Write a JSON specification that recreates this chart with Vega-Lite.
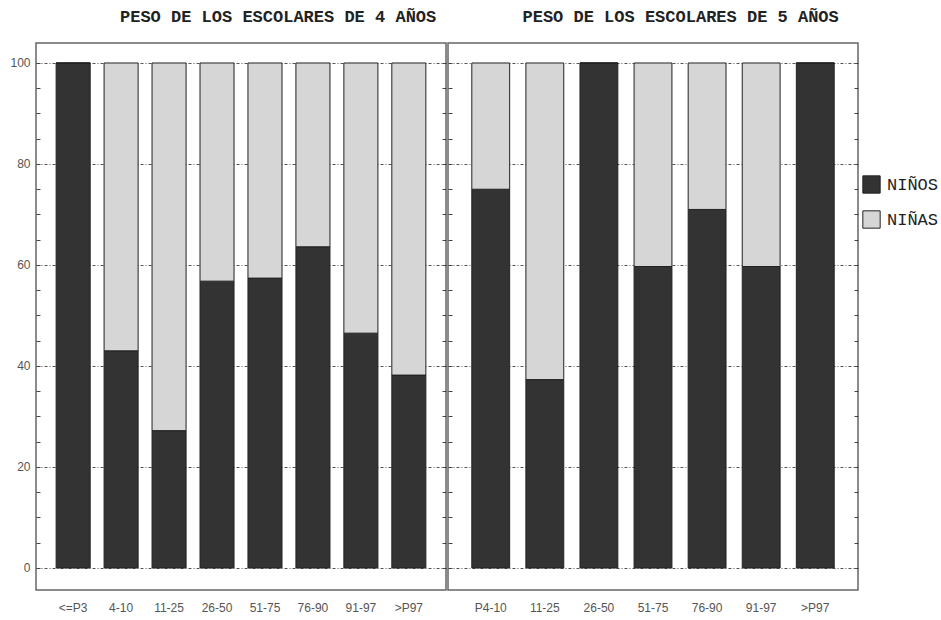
{
  "$schema": "https://vega.github.io/schema/vega-lite/v6.json",
  "background": "white",
  "padding": {"left": 9, "top": 7, "right": 5, "bottom": 5},
  "datasets": {
    "p4": [
      {"cat": "<=P3", "sexo": "NIÑOS", "valor": 100},
      {"cat": "<=P3", "sexo": "NIÑAS", "valor": 0},
      {"cat": "4-10", "sexo": "NIÑOS", "valor": 43},
      {"cat": "4-10", "sexo": "NIÑAS", "valor": 57},
      {"cat": "11-25", "sexo": "NIÑOS", "valor": 27.2},
      {"cat": "11-25", "sexo": "NIÑAS", "valor": 72.8},
      {"cat": "26-50", "sexo": "NIÑOS", "valor": 56.8},
      {"cat": "26-50", "sexo": "NIÑAS", "valor": 43.2},
      {"cat": "51-75", "sexo": "NIÑOS", "valor": 57.4},
      {"cat": "51-75", "sexo": "NIÑAS", "valor": 42.6},
      {"cat": "76-90", "sexo": "NIÑOS", "valor": 63.6},
      {"cat": "76-90", "sexo": "NIÑAS", "valor": 36.4},
      {"cat": "91-97", "sexo": "NIÑOS", "valor": 46.5},
      {"cat": "91-97", "sexo": "NIÑAS", "valor": 53.5},
      {"cat": ">P97", "sexo": "NIÑOS", "valor": 38.2},
      {"cat": ">P97", "sexo": "NIÑAS", "valor": 61.8}
    ],
    "p5": [
      {"cat": "P4-10", "sexo": "NIÑOS", "valor": 75},
      {"cat": "P4-10", "sexo": "NIÑAS", "valor": 25},
      {"cat": "11-25", "sexo": "NIÑOS", "valor": 37.3},
      {"cat": "11-25", "sexo": "NIÑAS", "valor": 62.7},
      {"cat": "26-50", "sexo": "NIÑOS", "valor": 100},
      {"cat": "26-50", "sexo": "NIÑAS", "valor": 0},
      {"cat": "51-75", "sexo": "NIÑOS", "valor": 59.7},
      {"cat": "51-75", "sexo": "NIÑAS", "valor": 40.3},
      {"cat": "76-90", "sexo": "NIÑOS", "valor": 71},
      {"cat": "76-90", "sexo": "NIÑAS", "valor": 29},
      {"cat": "91-97", "sexo": "NIÑOS", "valor": 59.7},
      {"cat": "91-97", "sexo": "NIÑAS", "valor": 40.3},
      {"cat": ">P97", "sexo": "NIÑOS", "valor": 100},
      {"cat": ">P97", "sexo": "NIÑAS", "valor": 0}
    ]
  },
  "config": {
    "view": {"stroke": "#666", "strokeWidth": 1.5},
    "axis": {"labelFont": "Liberation Sans", "labelFontSize": 12, "labelColor": "#555", "title": null},
    "title": {"font": "Liberation Mono", "fontSize": 17, "fontWeight": "bold", "color": "#222", "anchor": "start", "offset": 17}
  },
  "spacing": -2,
  "hconcat": [
    {
      "width": 410,
      "height": 547,
      "title": {"text": "PESO DE LOS ESCOLARES DE 4 AÑOS", "dx": 110},
      "data": {"name": "p4"},
      "layer": [
        {
          "mark": {"type": "bar", "stroke": "#222", "strokeWidth": 1},
          "encoding": {
            "x": {"field": "cat", "type": "nominal", "sort": null,
              "scale": {"paddingInner": 0.29, "paddingOuter": 0.42},
              "axis": {"domain": false, "ticks": false, "labelAngle": 0, "labelPadding": 12}},
            "y": {"field": "valor", "type": "quantitative", "stack": "zero",
              "scale": {"domain": [-4.36, 103.96], "nice": false, "zero": false},
              "axis": {"orient": "left", "values": [0,5,10,15,20,25,30,35,40,45,50,55,60,65,70,75,80,85,90,95,100],
                "labelExpr": "datum.value % 20 === 0 ? datum.label : ''",
                "domain": false, "tickSize": -4, "tickColor": "#444", "labelPadding": 10,
                "grid": true, "gridColor": "#555", "gridDash": [3, 2, 1, 2],
                "gridOpacity": {"condition": {"test": "datum.value % 20 === 0", "value": 1}, "value": 0}}},
            "color": {"field": "sexo", "type": "nominal",
              "scale": {"domain": ["NIÑOS", "NIÑAS"], "range": ["#333333", "#d6d6d6"]},
              "legend": {"orient": "none", "legendX": 826, "legendY": 132, "title": null,
                "symbolType": "square", "symbolSize": 300, "symbolStrokeColor": "#222", "symbolStrokeWidth": 1,
                "labelFont": "Liberation Mono", "labelFontSize": 17, "labelColor": "#222", "rowPadding": 12, "labelOffset": 6}},
            "order": {"field": "sexo", "sort": "descending"}
          }
        },
        {
          "mark": {"type": "bar", "opacity": 0},
          "encoding": {
            "x": {"field": "cat", "type": "nominal", "sort": null},
            "y": {"field": "valor", "type": "quantitative", "stack": "zero",
              "axis": {"orient": "right", "values": [0,5,10,15,20,25,30,35,40,45,50,55,60,65,70,75,80,85,90,95,100],
                "labels": false, "domain": false, "tickSize": -4, "tickColor": "#444", "grid": false}},
            "order": {"field": "sexo", "sort": "descending"}
          }
        }
      ],
      "resolve": {"axis": {"y": "independent"}}
    },
    {
      "width": 410,
      "height": 547,
      "title": {"text": "PESO DE LOS ESCOLARES DE 5 AÑOS", "dx": 75},
      "data": {"name": "p5"},
      "layer": [
        {
          "mark": {"type": "bar", "stroke": "#222", "strokeWidth": 1},
          "encoding": {
            "x": {"field": "cat", "type": "nominal", "sort": null,
              "scale": {"paddingInner": 0.3, "paddingOuter": 0.44},
              "axis": {"domain": false, "ticks": false, "labelAngle": 0, "labelPadding": 12}},
            "y": {"field": "valor", "type": "quantitative", "stack": "zero",
              "scale": {"domain": [-4.36, 103.96], "nice": false, "zero": false},
              "axis": {"orient": "left", "values": [0,5,10,15,20,25,30,35,40,45,50,55,60,65,70,75,80,85,90,95,100],
                "labels": false, "domain": false, "tickSize": -4, "tickColor": "#444",
                "grid": true, "gridColor": "#555", "gridDash": [3, 2, 1, 2],
                "gridOpacity": {"condition": {"test": "datum.value % 20 === 0", "value": 1}, "value": 0}}},
            "color": {"field": "sexo", "type": "nominal"},
            "order": {"field": "sexo", "sort": "descending"}
          }
        },
        {
          "mark": {"type": "bar", "opacity": 0},
          "encoding": {
            "x": {"field": "cat", "type": "nominal", "sort": null},
            "y": {"field": "valor", "type": "quantitative", "stack": "zero",
              "axis": {"orient": "right", "values": [0,5,10,15,20,25,30,35,40,45,50,55,60,65,70,75,80,85,90,95,100],
                "labels": false, "domain": false, "tickSize": -4, "tickColor": "#444", "grid": false}},
            "order": {"field": "sexo", "sort": "descending"}
          }
        }
      ],
      "resolve": {"axis": {"y": "independent"}}
    }
  ]
}
